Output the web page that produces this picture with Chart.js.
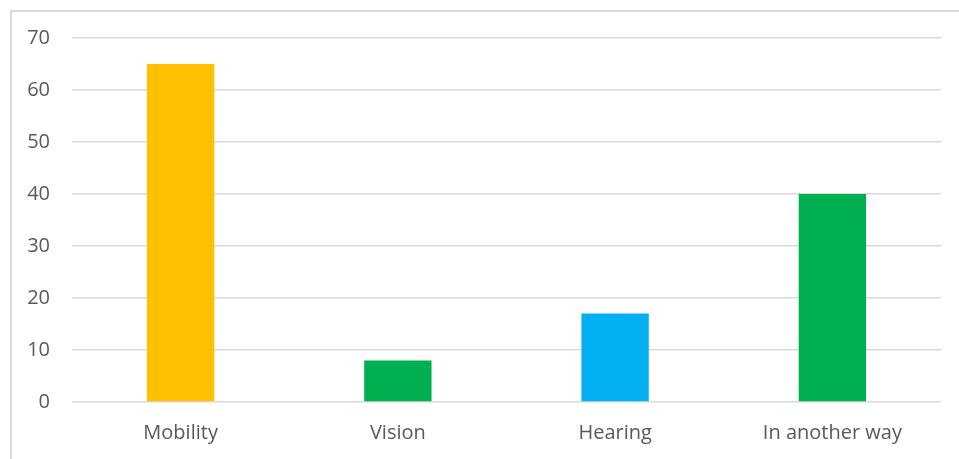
<!DOCTYPE html>
<html>
<head>
<meta charset="utf-8">
<script src="https://cdn.jsdelivr.net/npm/chart.js@4/dist/chart.umd.min.js"></script>
<style>
  body { margin: 0; background: #fff; }
  #frame { position: absolute; left: 10px; top: 10px; width: 1000px; height: 500px; border: 2px solid #d9d9d9; box-sizing: border-box; }
  #wrap { position: absolute; left: 0; top: 0; width: 959px; height: 459px; }
</style>
</head>
<body>
<div id="frame"></div>
<div id="wrap"><canvas id="myChart"></canvas></div>
<script>
// categories and values
const categories = ['Mobility', 'Vision', 'Hearing', 'In another way'];
const values = [65, 8, 17, 40];
const barColors = ['#FFC000', '#00B050', '#00B0F0', '#00B050'];
const yTicks = [0, 10, 20, 30, 40, 50, 60, 70];

var ctx = document.getElementById('myChart').getContext('2d');
var chart = new Chart(ctx, {
    type: 'bar',
    data: {
        labels: categories,
        datasets: [{
            data: values,
            backgroundColor: barColors,
            barPercentage: 0.31,
            categoryPercentage: 1.0
        }]
    },
    options: {
        responsive: true,
        maintainAspectRatio: false,
        animation: false,
        layout: { padding: { top: 38, right: 18, left: 0, bottom: 0 } },
        plugins: { legend: { display: false }, tooltip: { enabled: false } },
        scales: {
            x: {
                grid: { display: false },
                border: { display: false },
                ticks: { color: '#595959', font: { family: 'Open Sans', size: 20 }, padding: 11 },
                afterFit: function(scale) { scale.height = 57; }
            },
            y: {
                min: 0,
                max: 70,
                afterBuildTicks: function(scale) { scale.ticks = yTicks.map(v => ({ value: v })); },
                grid: { color: '#d9d9d9', lineWidth: 1.5, drawTicks: false },
                border: { display: false },
                ticks: { color: '#595959', font: { family: 'Open Sans', size: 20 }, padding: 22 },
                afterFit: function(scale) { scale.width = 72; }
            }
        }
    }
});
</script>
</body>
</html>
